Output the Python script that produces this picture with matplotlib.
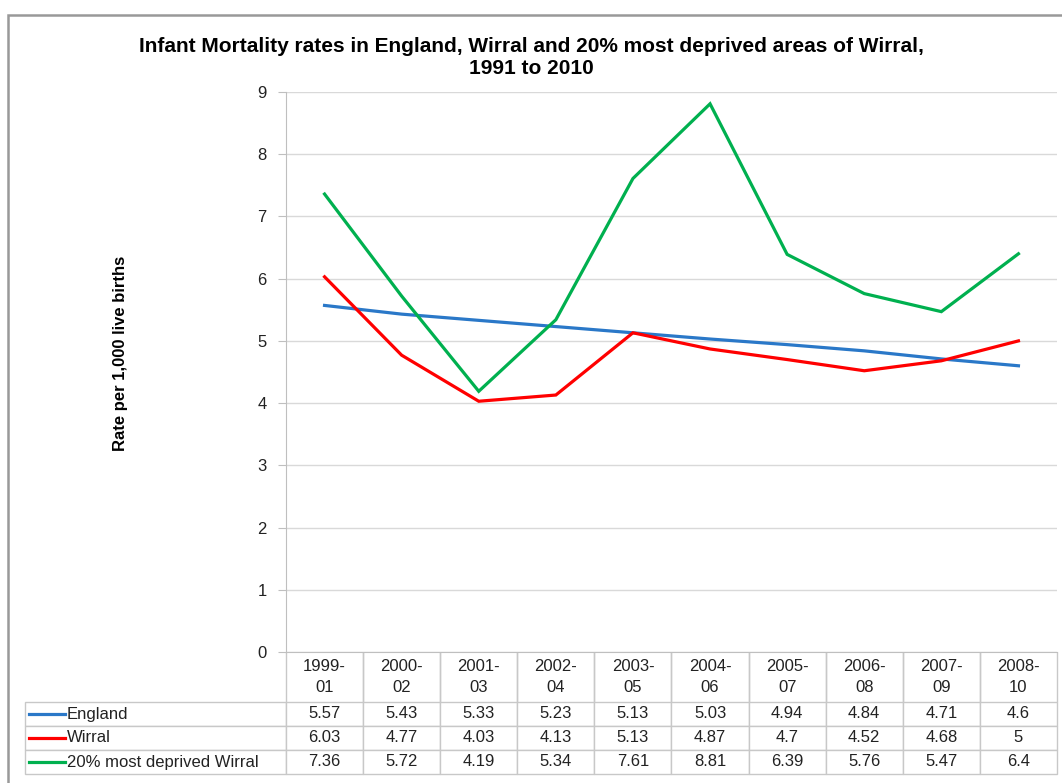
import matplotlib
matplotlib.use("Agg")
from matplotlib import pyplot as plt
from matplotlib.patches import Rectangle

plt.rcParams['font.family'] = ['Liberation Sans', 'DejaVu Sans']

periods = ['1999-\n01', '2000-\n02', '2001-\n03', '2002-\n04', '2003-\n05',
           '2004-\n06', '2005-\n07', '2006-\n08', '2007-\n09', '2008-\n10']
england = [5.57, 5.43, 5.33, 5.23, 5.13, 5.03, 4.94, 4.84, 4.71, 4.6]
wirral = [6.03, 4.77, 4.03, 4.13, 5.13, 4.87, 4.7, 4.52, 4.68, 5]
deprived = [7.36, 5.72, 4.19, 5.34, 7.61, 8.81, 6.39, 5.76, 5.47, 6.4]
series_names = ['England', 'Wirral', '20% most deprived Wirral']
colors = ['#2a78c8', '#ff0000', '#00b04f']

W, H = 1062, 783
fig = plt.figure(figsize=(W / 100, H / 100), dpi=100)

# outer chart frame
fig.patches.append(Rectangle((8 / W, -0.05), 1.1, 1 - 15 / H + 0.05,
                             transform=fig.transFigure, fill=False,
                             edgecolor='#999999', linewidth=1.8))

ax_l, ax_r, ax_t, ax_b = 286, 1057, 92, 652
ax = fig.add_axes([ax_l / W, 1 - ax_b / H, (ax_r - ax_l) / W, (ax_b - ax_t) / H])

x = list(range(len(periods)))
for vals, c in zip([england, wirral, deprived], colors):
    ax.plot(x, vals, color=c, linewidth=2.3, solid_joinstyle='miter')

ax.set_xlim(-0.5, len(periods) - 0.5)
ax.set_ylim(0, 9)
ax.set_yticks(range(10))
ax.set_xticks([])
ax.grid(axis='y', color='#d9d9d9', linewidth=1)
ax.set_axisbelow(True)
for s in ['top', 'right']:
    ax.spines[s].set_visible(False)
ax.spines['left'].set_color('#bfbfbf')
ax.spines['bottom'].set_color('#bfbfbf')
ax.tick_params(axis='y', length=6, color='#bfbfbf', labelsize=12,
               labelcolor='#222222', pad=8)

fig.text(0.5, 1 - 57 / H, 'Infant Mortality rates in England, Wirral and 20% most deprived areas of Wirral,\n1991 to 2010',
         ha='center', va='center', fontsize=15, fontweight='bold',
         linespacing=1.2)
fig.text(120 / W, 1 - 353 / H, 'Rate per 1,000 live births', rotation=90,
         ha='center', va='center', fontsize=12, fontweight='bold')

# data table under the axis
ax_w = ax_r - ax_l
ax_h = ax_b - ax_t
label_w = ax_l - 25
col_w = ax_w / len(periods)
rows = [[name] + [f'{v:g}' for v in vals]
        for name, vals in zip(series_names, [england, wirral, deprived])]
tbl = ax.table(cellText=rows, colLabels=[''] + periods,
               colWidths=[label_w / ax_w] + [col_w / ax_w] * len(periods),
               cellLoc='center',
               bbox=[-label_w / ax_w, -122 / ax_h, (label_w + ax_w) / ax_w, 122 / ax_h])
tbl.auto_set_font_size(False)
tbl.set_fontsize(12)
for (r, c), cell in tbl.get_celld().items():
    cell.set_edgecolor('#c8c8c8')
    cell.set_linewidth(1)
    cell.get_text().set_color('#222222')
    cell.set_height(50 / ax_h if r == 0 else 24 / ax_h)
    if r == 0:
        cell.visible_edges = 'LR' if c > 0 else ''
        cell.get_text().set_linespacing(1.45)
    if c == 0 and r > 0:
        cell.get_text().set_ha('left')
        cell.PAD = 42 / label_w

# legend keys inside row labels
for i, c in enumerate(colors):
    yc = -(50 + 24 * i + 12) / ax_h
    ax.plot([-(label_w - 4) / ax_w, -(label_w - 40) / ax_w], [yc, yc],
            color=c, linewidth=2.3, transform=ax.transAxes, clip_on=False)

fig.savefig('out.png', dpi=100)
